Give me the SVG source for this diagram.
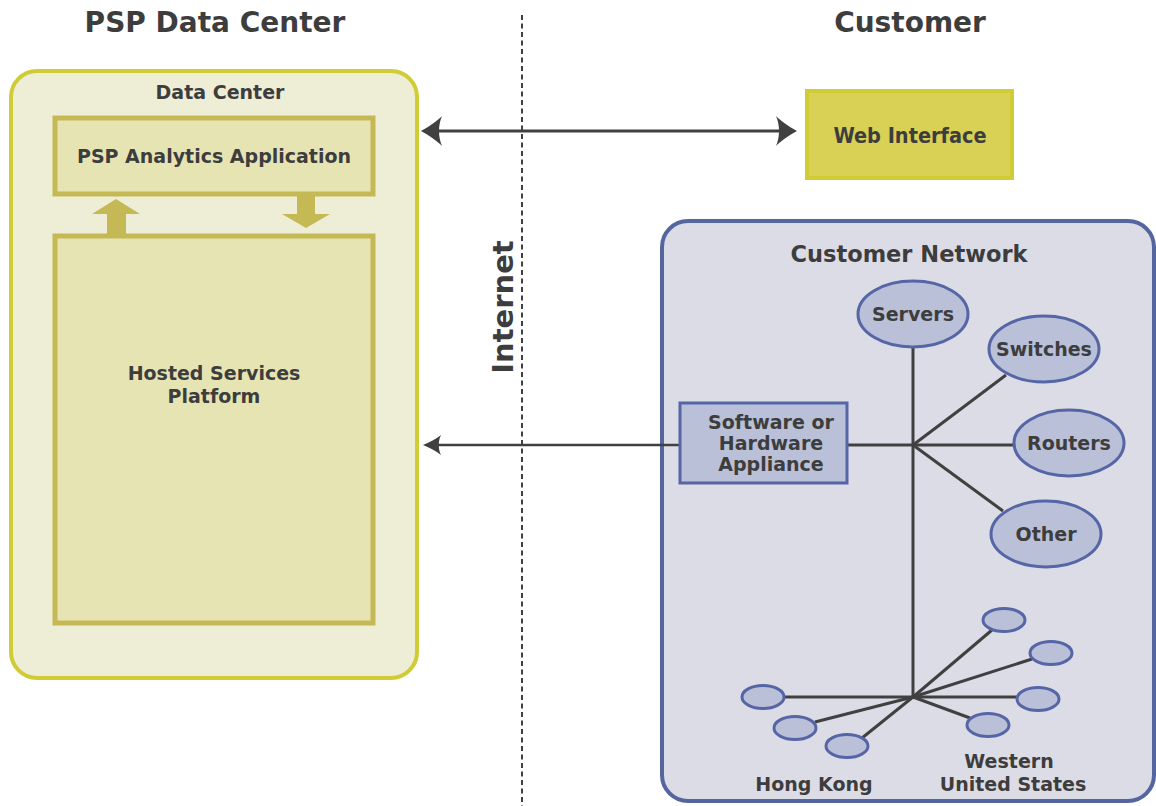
<svg xmlns="http://www.w3.org/2000/svg" width="1156" height="806" viewBox="0 0 1156 806">
<style>
text{font-family:"DejaVu Sans","Liberation Sans",sans-serif;font-weight:bold;fill:#3d3d3d;text-anchor:middle}
.title{font-size:28px}
.lbl{font-size:19px}
.cond{font-family:"DejaVu Sans Condensed","DejaVu Sans",sans-serif;font-size:21.5px}
.conn{stroke:#404040;stroke-width:3;fill:none}
.thin{stroke:#404040;stroke-width:2.5;fill:none}
.ell{fill:#b9c0d8;stroke:#5565a5;stroke-width:3}
.inner{fill:#e7e4b3;stroke:#c4b955;stroke-width:5}
</style>
<defs>
<marker id="fancy" markerUnits="userSpaceOnUse" viewBox="0 -16 24 32" markerWidth="24" markerHeight="32" refX="4" refY="0" orient="auto-start-reverse">
<path d="M21,0 C13,-4 4,-11 0,-15 C4,-6 4,6 0,15 C4,11 13,4 21,0 Z" fill="#404040"/>
</marker>
<marker id="arr" markerUnits="userSpaceOnUse" viewBox="0 -11 20 22" markerWidth="20" markerHeight="22" refX="3" refY="0" orient="auto-start-reverse">
<path d="M18,0 C10,-3 4,-7 0,-10 C3,-4 3,4 0,10 C4,7 10,3 18,0 Z" fill="#404040"/>
</marker>
</defs>
<rect width="1156" height="806" fill="#ffffff"/>
<text class="title" x="215" y="32">PSP Data Center</text>
<text class="title" x="910" y="32">Customer</text>
<line x1="522" y1="15" x2="522" y2="806" stroke="#404040" stroke-width="2" stroke-dasharray="5,3.5"/>
<text class="title" transform="translate(513,307) rotate(-90)" x="0" y="0" style="font-size:29px">Internet</text>

<g id="data-center">
<rect x="11" y="71" width="406" height="607" rx="26" fill="#eeedd6" stroke="#cfcc35" stroke-width="4"/>
<text class="lbl" x="220" y="99">Data Center</text>
</g>
<g id="psp-analytics">
<rect class="inner" x="55" y="118" width="318" height="76"/>
<text class="lbl" x="214" y="163">PSP Analytics Application</text>
</g>
<g id="hosted-services">
<rect class="inner" x="55" y="236" width="318" height="387"/>
<text class="lbl" x="214" y="380">Hosted Services</text>
<text class="lbl" x="214" y="403">Platform</text>
</g>
<g id="web-interface">
<rect x="807" y="91" width="205" height="87" fill="#d9d155" stroke="#cfcc35" stroke-width="4"/>
<text class="cond" x="910" y="143">Web Interface</text>
</g>
<g id="customer-network">
<rect x="662" y="221" width="492" height="580" rx="26" fill="#dcdce6" stroke="#5565a0" stroke-width="4"/>
<text class="lbl" x="909" y="262" style="font-size:22.5px">Customer Network</text>
</g>

<g id="connectors">
<path d="M107,234 V214 H92 L116,199 L140,214 H126 V234 Z" fill="#c4b955"/>
<path d="M297,196 V214 H282 L306,228 L330,214 H315 V196 Z" fill="#c4b955"/>
<line class="conn" x1="438" y1="131" x2="780" y2="131" marker-start="url(#fancy)" marker-end="url(#fancy)"/>
<line class="thin" x1="679" y1="445" x2="438" y2="445" marker-end="url(#arr)"/>
<line class="conn" x1="913" y1="347" x2="913" y2="697"/>
<line class="conn" x1="848" y1="445" x2="1014" y2="445"/>
<line class="conn" x1="913" y1="445" x2="1006" y2="375"/>
<line class="conn" x1="913" y1="445" x2="1003" y2="511"/>
<line class="conn" x1="913" y1="697" x2="992" y2="630"/>
<line class="conn" x1="913" y1="697" x2="1032" y2="659"/>
<line class="conn" x1="913" y1="697" x2="1017" y2="697"/>
<line class="conn" x1="913" y1="697" x2="970" y2="718"/>
<line class="conn" x1="913" y1="697" x2="784" y2="697"/>
<line class="conn" x1="913" y1="697" x2="815" y2="722"/>
<line class="conn" x1="913" y1="697" x2="862" y2="738"/>
</g>

<g id="appliance">
<rect x="680" y="403" width="167" height="80" fill="#b9c0d8" stroke="#5565a5" stroke-width="3"/>
<text class="lbl" x="771" y="429">Software or</text>
<text class="lbl" x="771" y="450">Hardware</text>
<text class="lbl" x="771" y="471">Appliance</text>
</g>
<g id="servers"><ellipse class="ell" cx="913" cy="314" rx="55" ry="33"/><text class="lbl" x="913" y="321">Servers</text></g>
<g id="switches"><ellipse class="ell" cx="1044" cy="349" rx="55" ry="33"/><text class="lbl" x="1044" y="356">Switches</text></g>
<g id="routers"><ellipse class="ell" cx="1069" cy="443" rx="55" ry="33"/><text class="lbl" x="1069" y="450">Routers</text></g>
<g id="other"><ellipse class="ell" cx="1046" cy="534" rx="55" ry="33"/><text class="lbl" x="1046" y="541">Other</text></g>

<g id="western-us">
<ellipse class="ell" cx="1004" cy="620" rx="21" ry="11.5"/>
<ellipse class="ell" cx="1051" cy="653" rx="21" ry="11.5"/>
<ellipse class="ell" cx="1038" cy="699" rx="21" ry="11.5"/>
<ellipse class="ell" cx="988" cy="725" rx="21" ry="11.5"/>
<text class="lbl" x="1009" y="768">Western</text>
<text class="lbl" x="1013" y="791">United States</text>
</g>
<g id="hong-kong">
<ellipse class="ell" cx="763" cy="697" rx="21" ry="11.5"/>
<ellipse class="ell" cx="795" cy="728" rx="21" ry="11.5"/>
<ellipse class="ell" cx="847" cy="746" rx="21" ry="11.5"/>
<text class="lbl" x="814" y="791">Hong Kong</text>
</g>
</svg>
